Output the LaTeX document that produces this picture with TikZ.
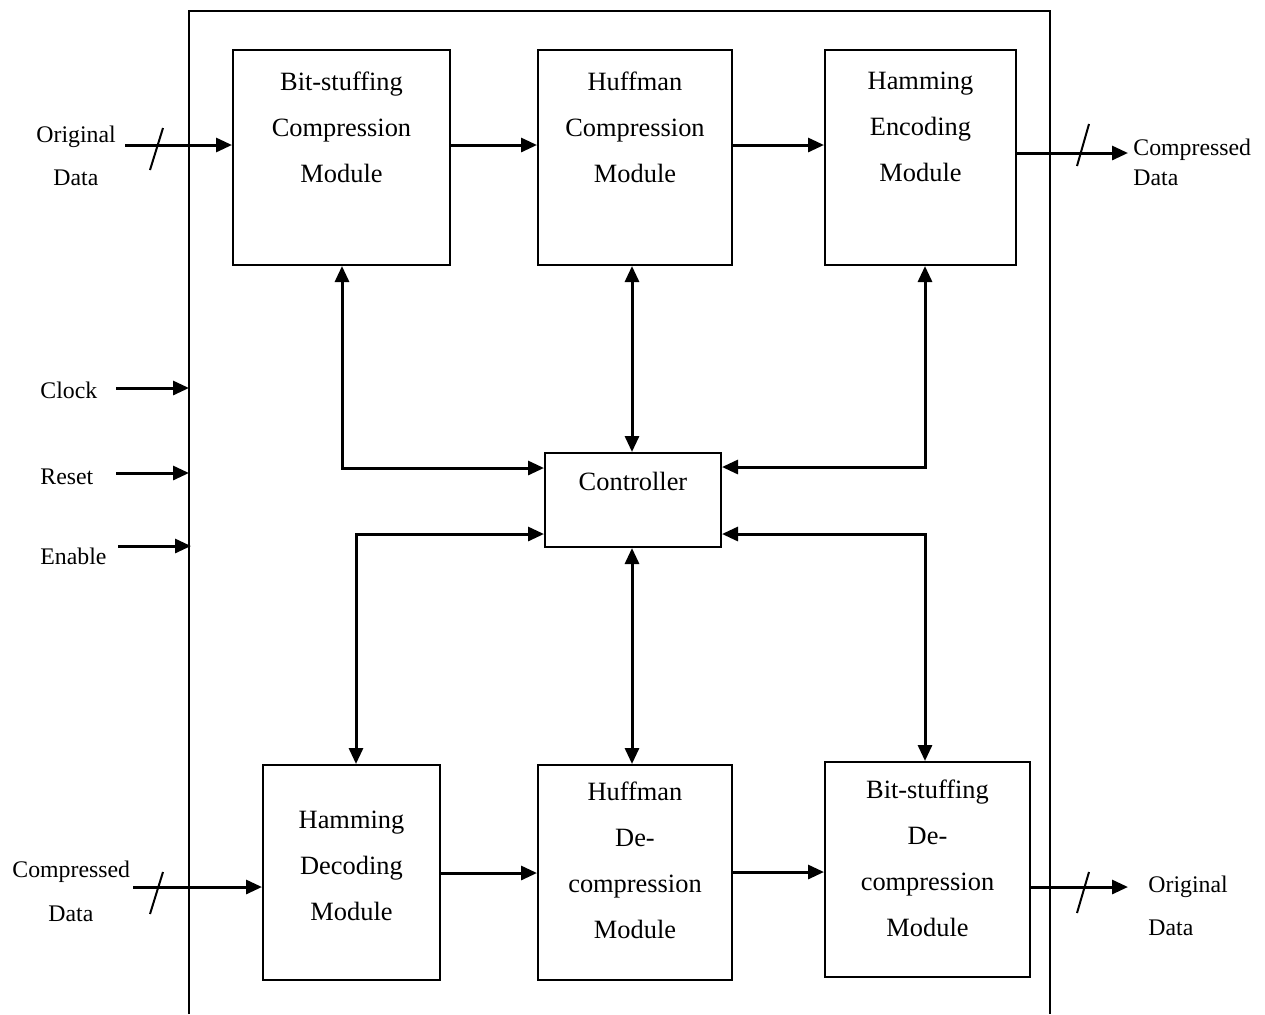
\documentclass[tikz,border=0pt]{standalone}
\usepackage{fontspec}
\setmainfont{Liberation Serif}
\usetikzlibrary{arrows.meta}
\begin{document}
\begin{tikzpicture}[x=0.5pt,y=-0.5pt,
  blk/.style={draw,line width=1pt,rectangle,inner sep=0pt},
  txt/.style={align=center,inner sep=0pt,font=\fontsize{13.2}{23}\selectfont},
  lbl/.style={anchor=west,inner sep=0pt,font=\fontsize{11.9}{14}\selectfont},
  arr/.style={line width=1.5pt,-{Triangle[length=8pt,width=7pt]}},
  darr/.style={line width=1.5pt,{Triangle[length=8pt,width=7pt]}-{Triangle[length=8pt,width=7pt]}},
  slash/.style={line width=1pt}]
\useasboundingbox (0,0) rectangle (1265,1014);

% enclosing system boundary (open at the bottom)
\draw[line width=0.75pt] (189,1014) -- (189,11) -- (1050,11) -- (1050,1014);

% compression path
\node[blk,minimum width=108.5pt,minimum height=107.5pt] (b1) at (341.5,157.5) {};
\node[blk,minimum width=97pt,minimum height=107.5pt] (b2) at (635,157.5) {};
\node[blk,minimum width=95.5pt,minimum height=107.5pt] (b3) at (920.5,157.5) {};
\node[txt] (t1) at (341.5,127) {Bit-stuffing\\Compression\\Module};
\node[txt] (t2) at (635,127) {Huffman\\Compression\\Module};
\node[txt] (t3) at (920.5,127) {Hamming\\Encoding\\Module};

% controller
\node[blk,minimum width=88pt,minimum height=47pt] (ctl) at (633,500) {};
\node[txt] (tc) at (633,481) {Controller};

% decompression path
\node[blk,minimum width=88.5pt,minimum height=107.5pt] (b4) at (351.5,872.5) {};
\node[blk,minimum width=97pt,minimum height=107.5pt] (b5) at (635,872.5) {};
\node[blk,minimum width=102.5pt,minimum height=107.5pt] (b6) at (927.5,869.5) {};
\node[txt] (t4) at (351.5,866) {Hamming\\Decoding\\Module};
\node[txt] (t5) at (635,860) {Huffman\\De-\\compression\\Module};
\node[txt] (t6) at (927.5,858) {Bit-stuffing\\De-\\compression\\Module};

% external labels
\node[lbl] (lo1) at (36,137) {Original};
\node[lbl] (lo2) at (53,178) {Data};
\node[lbl] (lc1) at (1133,150) {Compressed};
\node[lbl] (lc2) at (1133,178) {Data};
\node[lbl] (lck) at (40,390) {Clock};
\node[lbl] (lrs) at (40,477) {Reset};
\node[lbl] (len) at (40,556) {Enable};
\node[lbl] (lc3) at (12,872) {Compressed};
\node[lbl] (lc4) at (48,914) {Data};
\node[lbl] (lo3) at (1148,887) {Original};
\node[lbl] (lo4) at (1148,928) {Data};

% routing helpers
\coordinate (inA) at (125,145);
\coordinate (outA) at (1128,153);
\coordinate (inB) at (133,887);
\coordinate (outB) at (1128,887);
\coordinate (ck) at (116,388);
\coordinate (rs) at (116,473);
\coordinate (en) at (118,546);
\coordinate (ckE) at (189,388);
\coordinate (rsE) at (189,473);
\coordinate (enE) at (191,546);
\coordinate (ka) at (342,468);
\coordinate (kb) at (925,467);
\coordinate (kc) at (356,534);
\coordinate (kd) at (925,534);
\coordinate (vm) at (632,0);

% data flow
\draw[arr] (inA) -- (b1.west |- inA);
\draw[arr] (b1.east |- inA) -- (b2.west |- inA);
\draw[arr] (b2.east |- inA) -- (b3.west |- inA);
\draw[arr] (b3.east |- outA) -- (outA);
\draw[arr] (inB) -- (b4.west |- inB);
\draw[arr] (b4.east |- 0,873) coordinate (q1) -- (b5.west |- q1);
\draw[arr] (b5.east |- 0,872) coordinate (q2) -- (b6.west |- q2);
\draw[arr] (b6.east |- outB) -- (outB);

% bus width marks
\draw[slash] (150,170) -- (163,128);
\draw[slash] (1077,166) -- (1089,124);
\draw[slash] (150,914) -- (163,872);
\draw[slash] (1077,913) -- (1089,872);

% control inputs
\draw[arr] (ck) -- (ckE);
\draw[arr] (rs) -- (rsE);
\draw[arr] (en) -- (enE);

% controller links
\draw[darr] (b1.south -| ka) |- (ctl.west |- ka);
\draw[darr] (b2.south -| vm) -- (ctl.north -| vm);
\draw[darr] (b3.south -| kb) |- (ctl.east |- kb);
\draw[darr] (b4.north -| kc) |- (ctl.west |- kc);
\draw[darr] (b5.north -| vm) -- (ctl.south -| vm);
\draw[darr] (b6.north -| kd) |- (ctl.east |- kd);
\end{tikzpicture}
\end{document}
